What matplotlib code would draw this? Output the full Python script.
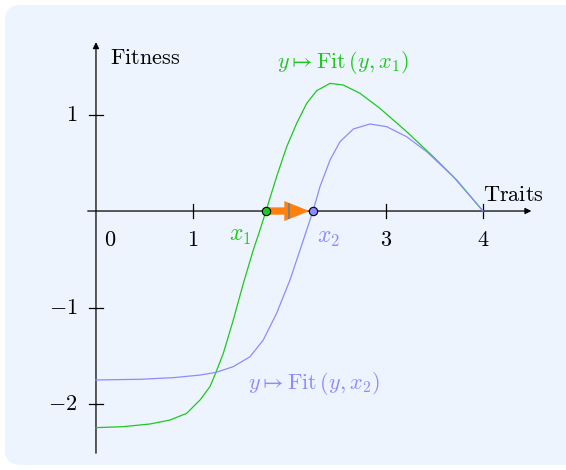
import numpy as np
import matplotlib
matplotlib.use("Agg")
import matplotlib.pyplot as plt
from matplotlib.patches import FancyBboxPatch

plt.rcParams['mathtext.fontset'] = 'cm'
plt.rcParams['font.family'] = 'serif'
plt.rcParams['font.serif'] = ['DejaVu Serif']

# curve y -> Fit(y, x1)
green_x = [0.0, 0.28, 0.56, 0.765, 0.937, 1.075, 1.178, 1.24, 1.316, 1.419, 1.523, 1.626, 1.695,
           1.757, 1.867, 1.971, 2.074, 2.178, 2.281, 2.419, 2.556, 2.729, 2.935, 3.211, 3.486, 3.728, 4.0]
green_y = [-2.245, -2.235, -2.207, -2.166, -2.097, -1.959, -1.82, -1.672, -1.475, -1.13, -0.75, -0.404, -0.197,
           0.0, 0.356, 0.666, 0.908, 1.116, 1.247, 1.323, 1.306, 1.22, 1.064, 0.822, 0.563, 0.321, 0.0]

# curve y -> Fit(y, x2)
blue_x = [0.0, 0.455, 0.80, 1.075, 1.24, 1.419, 1.592, 1.729, 1.867, 2.005, 2.109,
          2.243, 2.315, 2.419, 2.522, 2.66, 2.832, 3.005, 3.211, 3.418, 3.693, 4.0]
blue_y = [-1.751, -1.744, -1.727, -1.70, -1.672, -1.613, -1.51, -1.337, -1.06, -0.715, -0.404,
          0.0, 0.252, 0.528, 0.718, 0.85, 0.902, 0.874, 0.77, 0.615, 0.356, 0.0]

x1 = 1.757
x2 = 2.245
xticks = [1, 3, 4]
yticks = [1, -1, -2]

green = '#1ec81e'
blue = '#8c8cff'
bg = '#edf4fe'
fs = 16

fig = plt.figure(figsize=(5.66, 4.7), dpi=100)
fig.patch.set_facecolor('white')

ax = fig.add_axes([0, 0, 1, 1])
ax.set_xlim(-0.992, 4.858)
ax.set_ylim(-2.684, 2.187)
ax.axis('off')

# rounded background panel
panel = FancyBboxPatch((5 / 566, 5 / 470), 580 / 566, 460 / 470,
                       boxstyle="round,pad=0,rounding_size=0.03",
                       transform=fig.transFigure, facecolor=bg, edgecolor='none',
                       zorder=0, clip_on=False)
ax.add_patch(panel)

# axes with arrows
ax.annotate('', xy=(4.50, 0), xytext=(-0.085, 0),
            arrowprops=dict(arrowstyle='-|>', color='black', lw=0.9,
                            mutation_scale=9, shrinkA=0, shrinkB=0), zorder=2)
ax.annotate('', xy=(0, 1.75), xytext=(0, -2.51),
            arrowprops=dict(arrowstyle='-|>', color='black', lw=0.9,
                            mutation_scale=9, shrinkA=0, shrinkB=0), zorder=2)

tk = 0.075
for xt in xticks:
    ax.plot([xt, xt], [-tk, tk], color='black', lw=0.9, zorder=2)
    ax.text(xt, -0.3, f'${xt}$', ha='center', va='center', fontsize=fs)
for yt in yticks:
    ax.plot([-tk, tk], [yt, yt], color='black', lw=0.9, zorder=2)
    lab = f'${yt}$' if yt > 0 else f'$-{abs(yt)}$'
    ax.text(-0.19, yt, lab, ha='right', va='center', fontsize=fs)
ax.text(0.145, -0.3, '$0$', ha='center', va='center', fontsize=fs)

ax.text(0.14, 1.585, r'$\mathrm{Fitness}$', ha='left', va='center', fontsize=fs)
ax.text(4.31, 0.17, r'$\mathrm{Traits}$', ha='center', va='center', fontsize=fs)

ax.plot(green_x, green_y, color=green, lw=0.9, zorder=3)
ax.plot(blue_x, blue_y, color=blue, lw=0.9, zorder=3)

ax.text(2.553, 1.544, r'$y \mapsto \mathrm{Fit}\,(y, x_1)$', color=green,
        ha='center', va='center', fontsize=fs)
ax.text(2.253, -1.79, r'$y \mapsto \mathrm{Fit}\,(y, x_2)$', color=blue,
        ha='center', va='center', fontsize=fs)

# orange shift arrow
ax.annotate('', xy=(x2 - 0.04, 0), xytext=(x1, 0),
            arrowprops=dict(arrowstyle='simple,head_length=0.75,head_width=0.6,tail_width=0.22',
                            color='#ff800e', lw=0, mutation_scale=24,
                            shrinkA=0, shrinkB=0), zorder=4)
ax.plot([2, 2], [-tk, tk], color='#808080', lw=1.4, zorder=5)

ax.scatter([x1], [0], s=36, color=green, edgecolor='black', linewidth=0.8, zorder=6)
ax.scatter([x2], [0], s=36, color=blue, edgecolor='black', linewidth=0.8, zorder=6)
ax.text(1.488, -0.25, '$x_1$', color=green, ha='center', va='center', fontsize=fs + 1)
ax.text(2.398, -0.27, '$x_2$', color=blue, ha='center', va='center', fontsize=fs + 1)

plt.savefig('out.png', dpi=100)
plt.close()
